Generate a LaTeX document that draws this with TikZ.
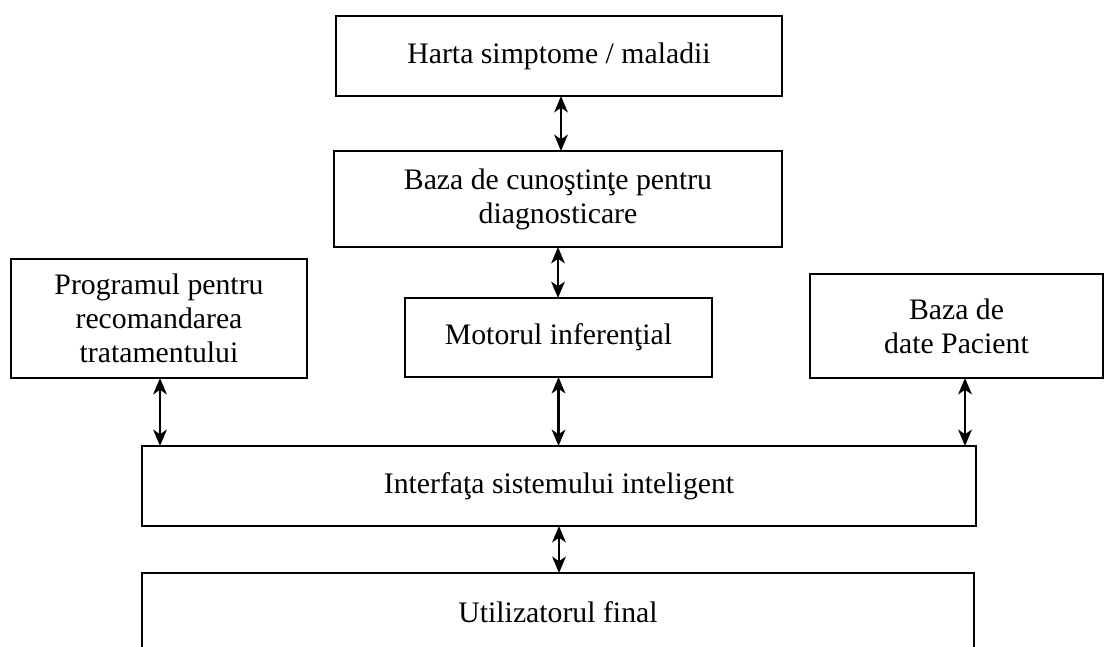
\documentclass[tikz,border=0pt]{standalone}
\usepackage{fontspec}
\setmainfont{Liberation Serif}
\usepackage{tikz}
\usetikzlibrary{arrows.meta}

\begin{document}
\begin{tikzpicture}[x=0.4pt, y=-0.4pt,
  box/.style = {draw, line width=0.8pt, rectangle, inner sep=0pt, outer sep=0pt, align=center,
    font=\fontsize{11.9}{13.6}\selectfont},
  link/.style = {{Stealth[length=6.5pt,width=5.4pt,inset=1.8pt]}-{Stealth[length=6.5pt,width=5.4pt,inset=1.8pt]}, line width=1.1pt}]
\clip (0,0) rectangle (1105,646);
\node[box, minimum width=178.4pt, minimum height=32pt] (harta) at (559,56) {Harta simptome / maladii};
\node[box, minimum width=179.2pt, minimum height=38.4pt] (baza) at (558,199) {Baza de cunoştinţe pentru\\diagnosticare};
\node[box, minimum width=118.4pt, minimum height=47.6pt] (prog) at (159,318.5) {Programul pentru\\recomandarea\\tratamentului};
\node[box, minimum width=122.8pt, minimum height=31.6pt] (motor) at (558.5,337.5) {Motorul inferenţial};
\node[box, minimum width=117.2pt, minimum height=41.6pt] (pacient) at (956.5,326) {Baza de\\date Pacient};
\node[box, minimum width=333.6pt, minimum height=32pt] (iface) at (559,486) {Interfaţa sistemului inteligent};
\node[box, minimum width=332.8pt, minimum height=31.2pt] (user) at (558,612) {Utilizatorul final};
\draw[link] ([xshift=0.8pt]harta.south) -- ([xshift=0.8pt]harta.south |- baza.north);
\draw[link] (baza.south) -- (baza.south |- motor.north);
\draw[link] ([xshift=0.4pt]prog.south) -- ([xshift=0.4pt]prog.south |- iface.north);
\draw[link] (motor.south) -- (motor.south |- iface.north);
\draw[link] ([xshift=3.4pt]pacient.south) -- ([xshift=3.4pt]pacient.south |- iface.north);
\draw[link] (iface.south) -- (iface.south |- user.north);
\end{tikzpicture}
\end{document}
